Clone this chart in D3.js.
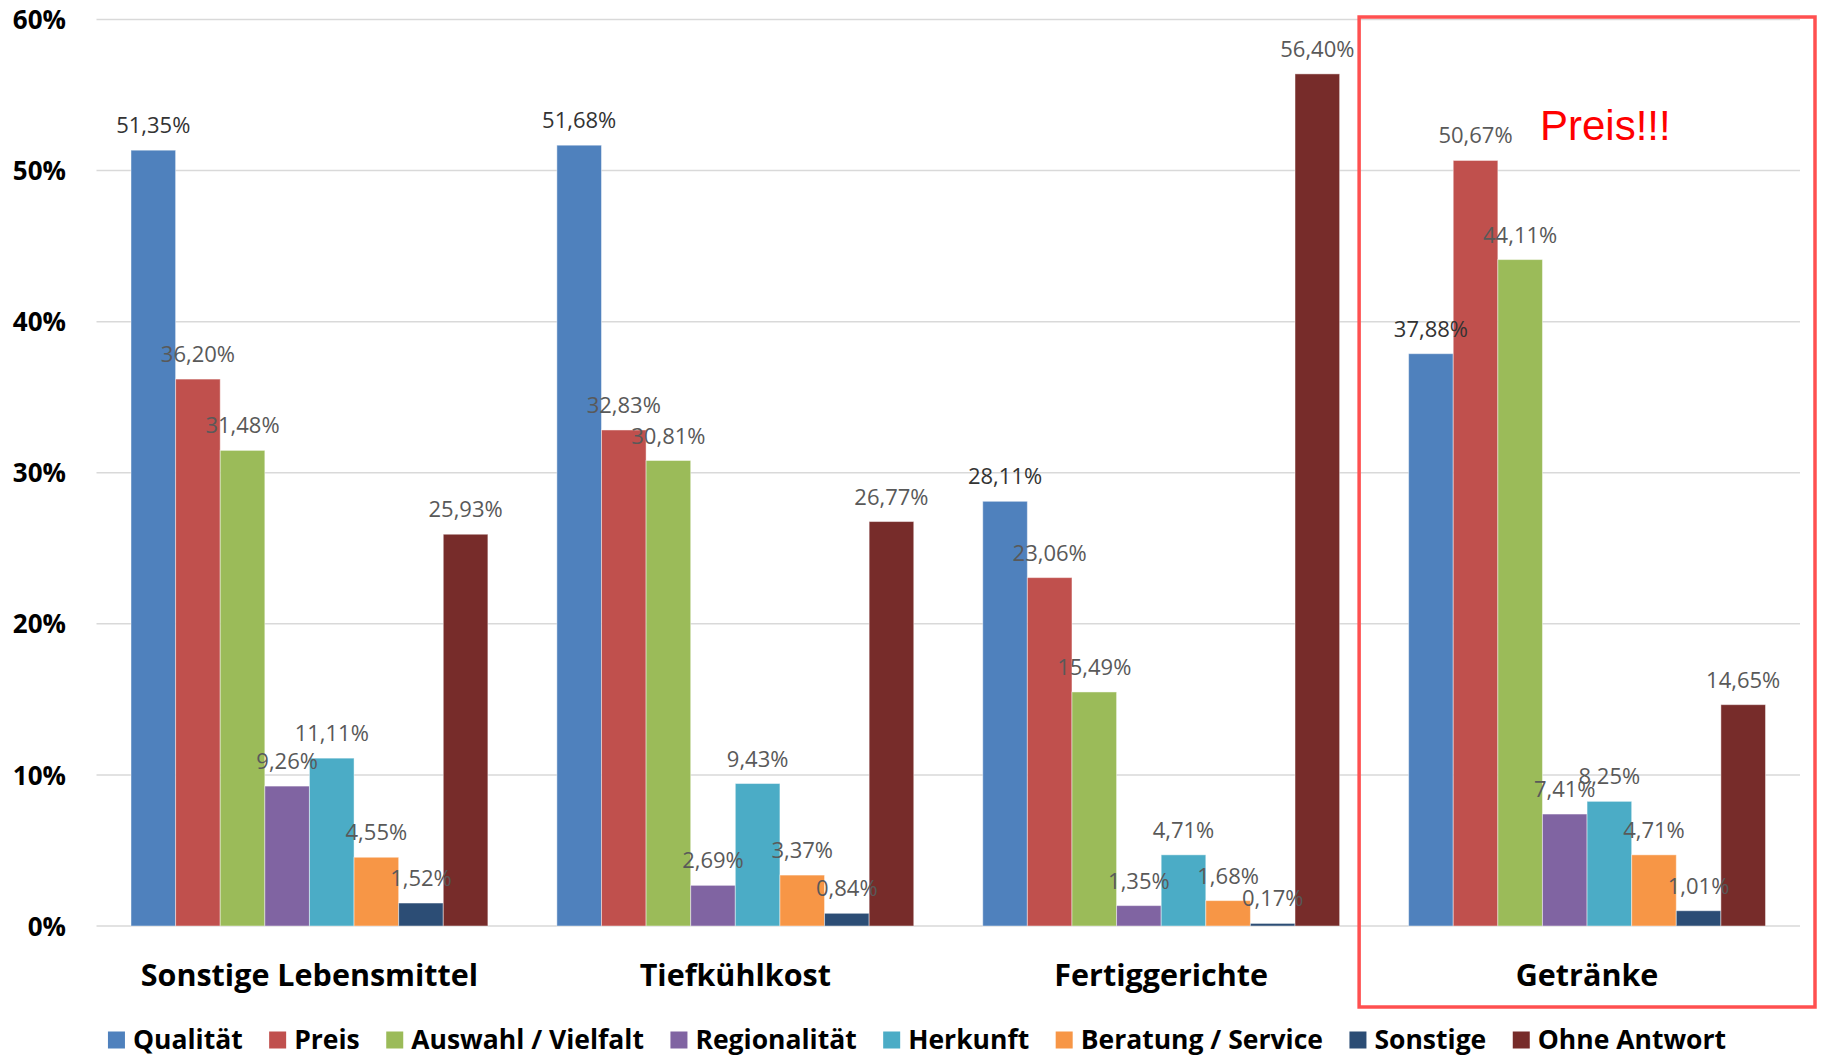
<!DOCTYPE html>
<html>
<head>
<meta charset="utf-8">
<script src="https://cdn.jsdelivr.net/npm/d3@7"></script>
<style>
  html, body { margin: 0; padding: 0; background: #ffffff; }
  svg { display: block; }
</style>
</head>
<body>
<svg id="chart" width="1823" height="1057"></svg>
<script>
// ---------- DATA ----------
const categories = ["Sonstige Lebensmittel", "Tiefkühlkost", "Fertiggerichte", "Getränke"];
const seriesNames = ["Qualität", "Preis", "Auswahl / Vielfalt", "Regionalität", "Herkunft", "Beratung / Service", "Sonstige", "Ohne Antwort"];
const qualitaet   = [51.35, 51.68, 28.11, 37.88];
const preis       = [36.20, 32.83, 23.06, 50.67];
const auswahl     = [31.48, 30.81, 15.49, 44.11];
const regionalitaet = [9.26, 2.69, 1.35, 7.41];
const herkunft    = [11.11, 9.43, 4.71, 8.25];
const beratung    = [4.55, 3.37, 1.68, 4.71];
const sonstige    = [1.52, 0.84, 0.17, 1.01];
const ohneAntwort = [25.93, 26.77, 56.40, 14.65];
const yTicks = [0, 10, 20, 30, 40, 50, 60];
const annotationText = "Preis!!!";
const highlightedCategory = "Getränke";

// ---------- STYLE ----------
const seriesValues = [qualitaet, preis, auswahl, regionalitaet, herkunft, beratung, sonstige, ohneAntwort];
const colors = ["#4F81BD", "#C0504D", "#9BBB59", "#8064A2", "#4BACC6", "#F79646", "#2C4D75", "#772C2A"];
const labelColors = ["#333333", "#595959", "#595959", "#595959", "#595959", "#595959", "#595959", "#595959"];

const svg = d3.select("#chart");
const plot = { left: 96.5, right: 1800, top: 19.5, bottom: 926 };

const x0 = d3.scaleBand().domain(categories).range([plot.left, plot.right]).paddingInner(0.162).paddingOuter(0.081);
const x1 = d3.scaleBand().domain(seriesNames).range([0, x0.bandwidth()]).padding(0);
const y = d3.scaleLinear().domain([0, 60]).range([plot.bottom, plot.top]);

const fmt = v => d3.format(".2f")(v).replace(".", ",") + "%";

// gridlines
svg.append("g").selectAll("line").data(yTicks).join("line")
  .attr("x1", plot.left).attr("x2", plot.right)
  .attr("y1", d => y(d)).attr("y2", d => y(d))
  .attr("stroke", "#D9D9D9").attr("stroke-width", 1.5);

// y axis labels
const yAxis = d3.axisLeft(y).tickValues(yTicks).tickFormat(d => d + "%").tickSize(0).tickPadding(0);
const ya = svg.append("g").attr("transform", "translate(66,0)").call(yAxis);
ya.select(".domain").remove();
ya.selectAll("text")
  .attr("font-family", "Open Sans, sans-serif").attr("font-weight", 700)
  .attr("font-size", 26).attr("fill", "#000").attr("dy", "0.35em");

// bars
const rows = [];
categories.forEach((c, ci) => {
  seriesNames.forEach((s, si) => {
    rows.push({ cat: c, series: s, si: si, value: seriesValues[si][ci] });
  });
});

const barG = svg.append("g");
barG.selectAll("rect").data(rows).join("rect")
  .attr("x", d => x0(d.cat) + x1(d.series))
  .attr("y", d => y(d.value))
  .attr("width", x1.bandwidth())
  .attr("height", d => y(0) - y(d.value))
  .attr("fill", d => colors[d.si])
  .attr("stroke", "rgba(255,255,255,0.45)").attr("stroke-width", 1);

// data labels
svg.append("g").selectAll("text").data(rows).join("text")
  .attr("x", d => x0(d.cat) + x1(d.series) + x1.bandwidth() / 2)
  .attr("y", d => y(d.value) - 17)
  .attr("text-anchor", "middle")
  .attr("font-family", "Open Sans, sans-serif")
  .attr("font-size", 22)
  .attr("fill", d => labelColors[d.si])
  .text(d => fmt(d.value));

// category labels
const xAxis = d3.axisBottom(x0).tickSize(0).tickPadding(0);
const xa = svg.append("g").attr("transform", `translate(0,${plot.bottom})`).call(xAxis);
xa.select(".domain").remove();
xa.selectAll("text")
  .attr("y", 60).attr("dy", 0)
  .attr("font-family", "Open Sans, sans-serif").attr("font-weight", 700)
  .attr("font-size", 30.5).attr("fill", "#000");

// legend
const legendY = 1040;
const legend = svg.append("g");
const items = legend.selectAll("g").data(seriesNames).join("g");
items.append("rect").attr("width", 17).attr("height", 17).attr("y", legendY - 8.5)
  .attr("fill", (d, i) => colors[i]);
items.append("text").attr("x", 25).attr("y", legendY).attr("dy", "0.35em")
  .attr("font-family", "Open Sans, sans-serif").attr("font-weight", 700)
  .attr("font-size", 26.5).attr("fill", "#000").text(d => d);
let cx = 0;
const gap = 26.5;
items.each(function() {
  const g = d3.select(this);
  g.attr("transform", `translate(${cx},0)`);
  const w = g.select("text").node().getComputedTextLength();
  cx += 25 + w + gap;
});
const totalW = cx - gap;
legend.attr("transform", `translate(${917 - totalW / 2},0)`);

// annotation box around highlighted category
const pad = 15;
svg.append("rect")
  .attr("x", x0(highlightedCategory) - x0.step() * x0.paddingOuter() - pad)
  .attr("y", 17)
  .attr("width", x0.step() + 2 * pad)
  .attr("height", 1007 - 17)
  .attr("fill", "none").attr("stroke", "#FF5050").attr("stroke-width", 3.5);

svg.append("text")
  .attr("x", 1540).attr("y", 140)
  .attr("font-family", "Liberation Sans, Arial, sans-serif")
  .attr("font-size", 42).attr("fill", "#FF0000")
  .text(annotationText);
</script>
</body>
</html>
